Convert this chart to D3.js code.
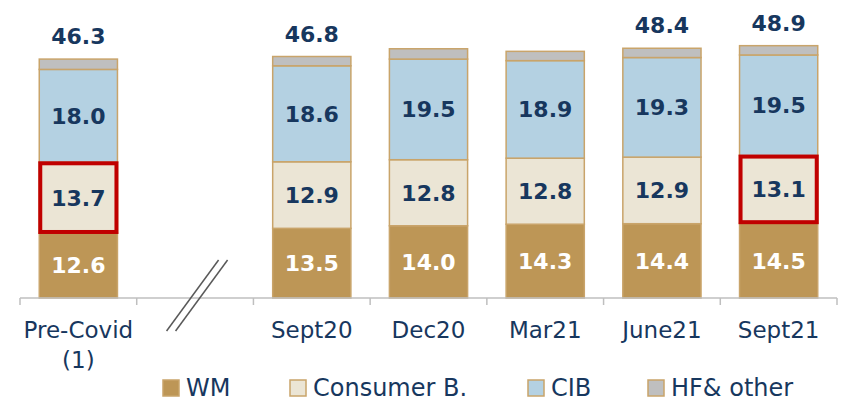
<!DOCTYPE html>
<html>
<head>
<meta charset="utf-8">
<script src="https://cdn.jsdelivr.net/npm/d3@7"></script>
<style>
  body { margin: 0; background: #fff; }
  svg text { font-family: "DejaVu Sans", sans-serif; }
</style>
</head>
<body>
<svg id="chart" width="841" height="402"></svg>
<script>
// data
const categories = ['Pre-Covid', 'break', 'Sept20', 'Dec20', 'Mar21', 'June21', 'Sept21']
const tickLabels = [['Pre-Covid', '(1)'], [], ['Sept20'], ['Dec20'], ['Mar21'], ['June21'], ['Sept21']]
const wm = [12.6, null, 13.5, 14.0, 14.3, 14.4, 14.5]
const consumer = [13.7, null, 12.9, 12.8, 12.8, 12.9, 13.1]
const cib = [18.0, null, 18.6, 19.5, 18.9, 19.3, 19.5]
const hfOther = [2.0, null, 1.8, 2.0, 1.8, 1.8, 1.8]
const totals = ['46.3', null, '46.8', null, null, '48.4', '48.9']
const highlighted = ['Pre-Covid', 'Sept21'] // consumer box outlined in red

const seriesNames = ['WM', 'Consumer B.', 'CIB', 'HF& other']
const colors = ['#bd9656', '#ebe5d5', '#b4d1e2', '#bfbfbf']
const labelColors = ['#ffffff', '#17375e', '#17375e', null]

const navy = '#17375e'
const svg = d3.select('#chart')

const x = d3.scaleBand().domain(categories).range([20, 837]).paddingInner(0.33).paddingOuter(0.165)
const y = d3.scaleLinear().domain([0, 50]).range([298, 40])

// build stacked table
const table = categories.map((c, i) => ({
  cat: c, 'WM': wm[i], 'Consumer B.': consumer[i], 'CIB': cib[i], 'HF& other': hfOther[i]
})).filter(d => d.WM != null)

const stack = d3.stack().keys(seriesNames)(table)

const layers = svg.selectAll('g.layer')
  .data(stack)
  .join('g')
  .attr('class', 'layer')

layers.each(function(layer, li) {
  const g = d3.select(this)
  g.selectAll('rect')
    .data(layer)
    .join('rect')
    .attr('x', d => x(d.data.cat))
    .attr('width', x.bandwidth())
    .attr('y', d => y(d[1]))
    .attr('height', d => y(d[0]) - y(d[1]))
    .attr('fill', colors[li])
    .attr('stroke', '#c9a46a')
    .attr('stroke-width', 1.5)

  if (labelColors[li]) {
    g.selectAll('text')
      .data(layer)
      .join('text')
      .attr('x', d => x(d.data.cat) + x.bandwidth() / 2)
      .attr('y', d => (y(d[0]) + y(d[1])) / 2)
      .attr('dy', '0.36em')
      .attr('text-anchor', 'middle')
      .attr('fill', labelColors[li])
      .attr('font-weight', 'bold')
      .attr('font-size', 22)
      .text(d => d3.format('.1f')(d[1] - d[0]))
  }
})

// red highlight on consumer segment
svg.selectAll('rect.hl')
  .data(stack[1].filter(d => highlighted.includes(d.data.cat)))
  .join('rect')
  .attr('class', 'hl')
  .attr('x', d => x(d.data.cat) + 1)
  .attr('width', x.bandwidth() - 2)
  .attr('y', d => y(d[1]) + 1)
  .attr('height', d => y(d[0]) - y(d[1]) - 2)
  .attr('fill', 'none')
  .attr('stroke', '#c00000')
  .attr('stroke-width', 4)

// totals above bars
const topLayer = stack[stack.length - 1]
svg.selectAll('text.total')
  .data(topLayer.filter(d => totals[categories.indexOf(d.data.cat)] != null))
  .join('text')
  .attr('class', 'total')
  .attr('x', d => x(d.data.cat) + x.bandwidth() / 2)
  .attr('y', d => y(d[1]) - 15)
  .attr('text-anchor', 'middle')
  .attr('fill', navy)
  .attr('font-weight', 'bold')
  .attr('font-size', 22)
  .text(d => totals[categories.indexOf(d.data.cat)])

// axis
const axisG = svg.append('g')
  .attr('transform', 'translate(0,' + y(0) + ')')
axisG.append('line')
  .attr('x1', 20).attr('x2', 837)
  .attr('stroke', '#bfbfbf').attr('stroke-width', 1.5)
const step = x.step()
axisG.selectAll('line.tick')
  .data(d3.range(categories.length + 1))
  .join('line')
  .attr('class', 'tick')
  .attr('x1', i => x.range()[0] + i * step)
  .attr('x2', i => x.range()[0] + i * step)
  .attr('y1', 0).attr('y2', 7)
  .attr('stroke', '#bfbfbf').attr('stroke-width', 1.5)

axisG.selectAll('text.cat')
  .data(categories)
  .join('text')
  .attr('class', 'cat')
  .attr('y', 40)
  .attr('text-anchor', 'middle')
  .attr('fill', navy)
  .attr('font-size', 23)
  .each(function(d, i) {
    const t = d3.select(this)
    tickLabels[i].forEach((line, j) => {
      t.append('tspan').attr('x', x(d) + x.bandwidth() / 2).attr('dy', j ? 30 : 0).text(line)
    })
  })

// axis break marks
const bx = x('break') + x.bandwidth() / 2
;[-4.5, 4.5].forEach(off => {
  svg.append('line')
    .attr('x1', bx + off - 24).attr('y1', 331)
    .attr('x2', bx + off + 28).attr('y2', 260)
    .attr('stroke', '#595959').attr('stroke-width', 1.5)
})

// legend
const legendX = [163, 290, 528, 648]
const legend = svg.selectAll('g.legend')
  .data(seriesNames)
  .join('g')
  .attr('class', 'legend')
  .attr('transform', (d, i) => 'translate(' + legendX[i] + ',380)')
legend.append('rect')
  .attr('width', 16).attr('height', 16)
  .attr('fill', (d, i) => colors[i])
  .attr('stroke', '#c9a46a').attr('stroke-width', 1.5)
legend.append('text')
  .attr('x', 23).attr('y', 16)
  .attr('fill', navy)
  .attr('font-size', 24)
  .text(d => d)
</script>
</body>
</html>
